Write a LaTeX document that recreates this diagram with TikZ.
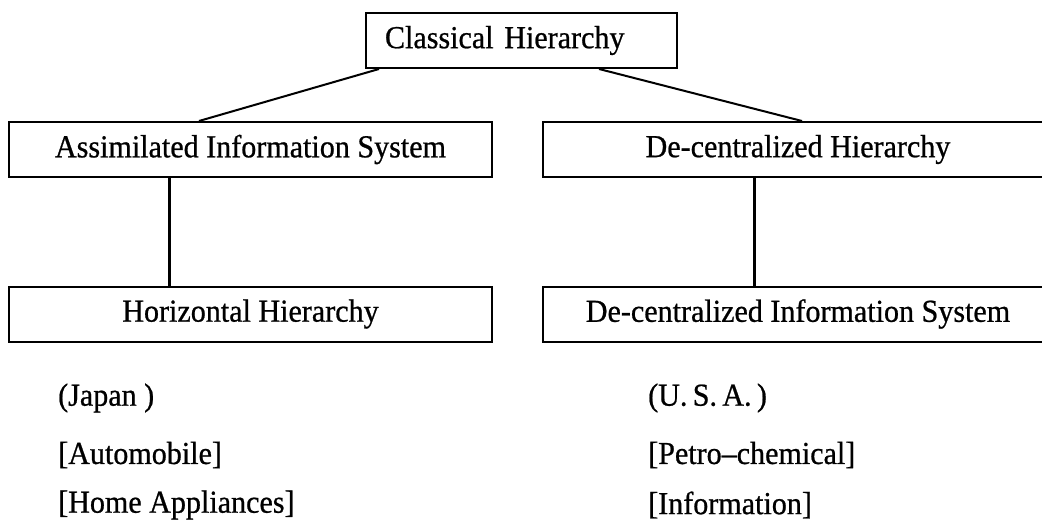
\documentclass[tikz,border=0pt]{standalone}
\usepackage{fontspec}
\setmainfont{Liberation Serif}[FakeBold=0.7,FakeStretch=0.94]
\usetikzlibrary{positioning}
\begin{document}
\begin{tikzpicture}[x=1pt,y=-1pt,
  box/.style={draw,line width=2pt,inner sep=0pt,minimum height=55pt,font=\fontsize{32}{36}\selectfont},
  conn/.style={line width=2pt},
  vconn/.style={line width=3pt},
  lbl/.style={anchor=west,inner sep=0pt,font=\fontsize{32}{36}\selectfont}]
\clip (0,0) rectangle (1042,524);
\fill[white] (0,0) rectangle (1042,524);
\node[box,minimum width=311pt,text width=273pt,align=left,inner xsep=19pt] (top) at (521.5,40.5) {Classical Hierarchy};
\node[box,minimum width=483pt] (A) at (250.5,149.5) {Assimilated Information System};
\node[box,minimum width=510pt] (D) at (798,149.5) {De-centralized Hierarchy};
\node[box,minimum width=483pt] (H) at (250.5,314) {Horizontal Hierarchy};
\node[box,minimum width=510pt] (DI) at (798,314) {De-centralized Information System};
\draw[conn] ([xshift=14pt]top.south west) -- ([xshift=191pt]A.north west);
\draw[conn] ([xshift=234pt]top.south west) -- ([xshift=260pt]D.north west);
\draw[vconn] ([xshift=161pt]A.south west) -- ([xshift=161pt]H.north west);
\draw[vconn] ([xshift=212pt]D.south west) -- ([xshift=212pt]DI.north west);
\node[lbl] (jp) at (58,398) {(Japan )};
\node[lbl] (au) at (58,455) {[Automobile]};
\node[lbl] (ho) at (58,505) {[Home Appliances]};
\node[lbl] (us) at (648,398) {(U.\,S.\,A.\,)};
\node[lbl] (pc) at (648,455) {[Petro--chemical]};
\node[lbl] (in) at (648,505) {[Information]};
\end{tikzpicture}
\end{document}
